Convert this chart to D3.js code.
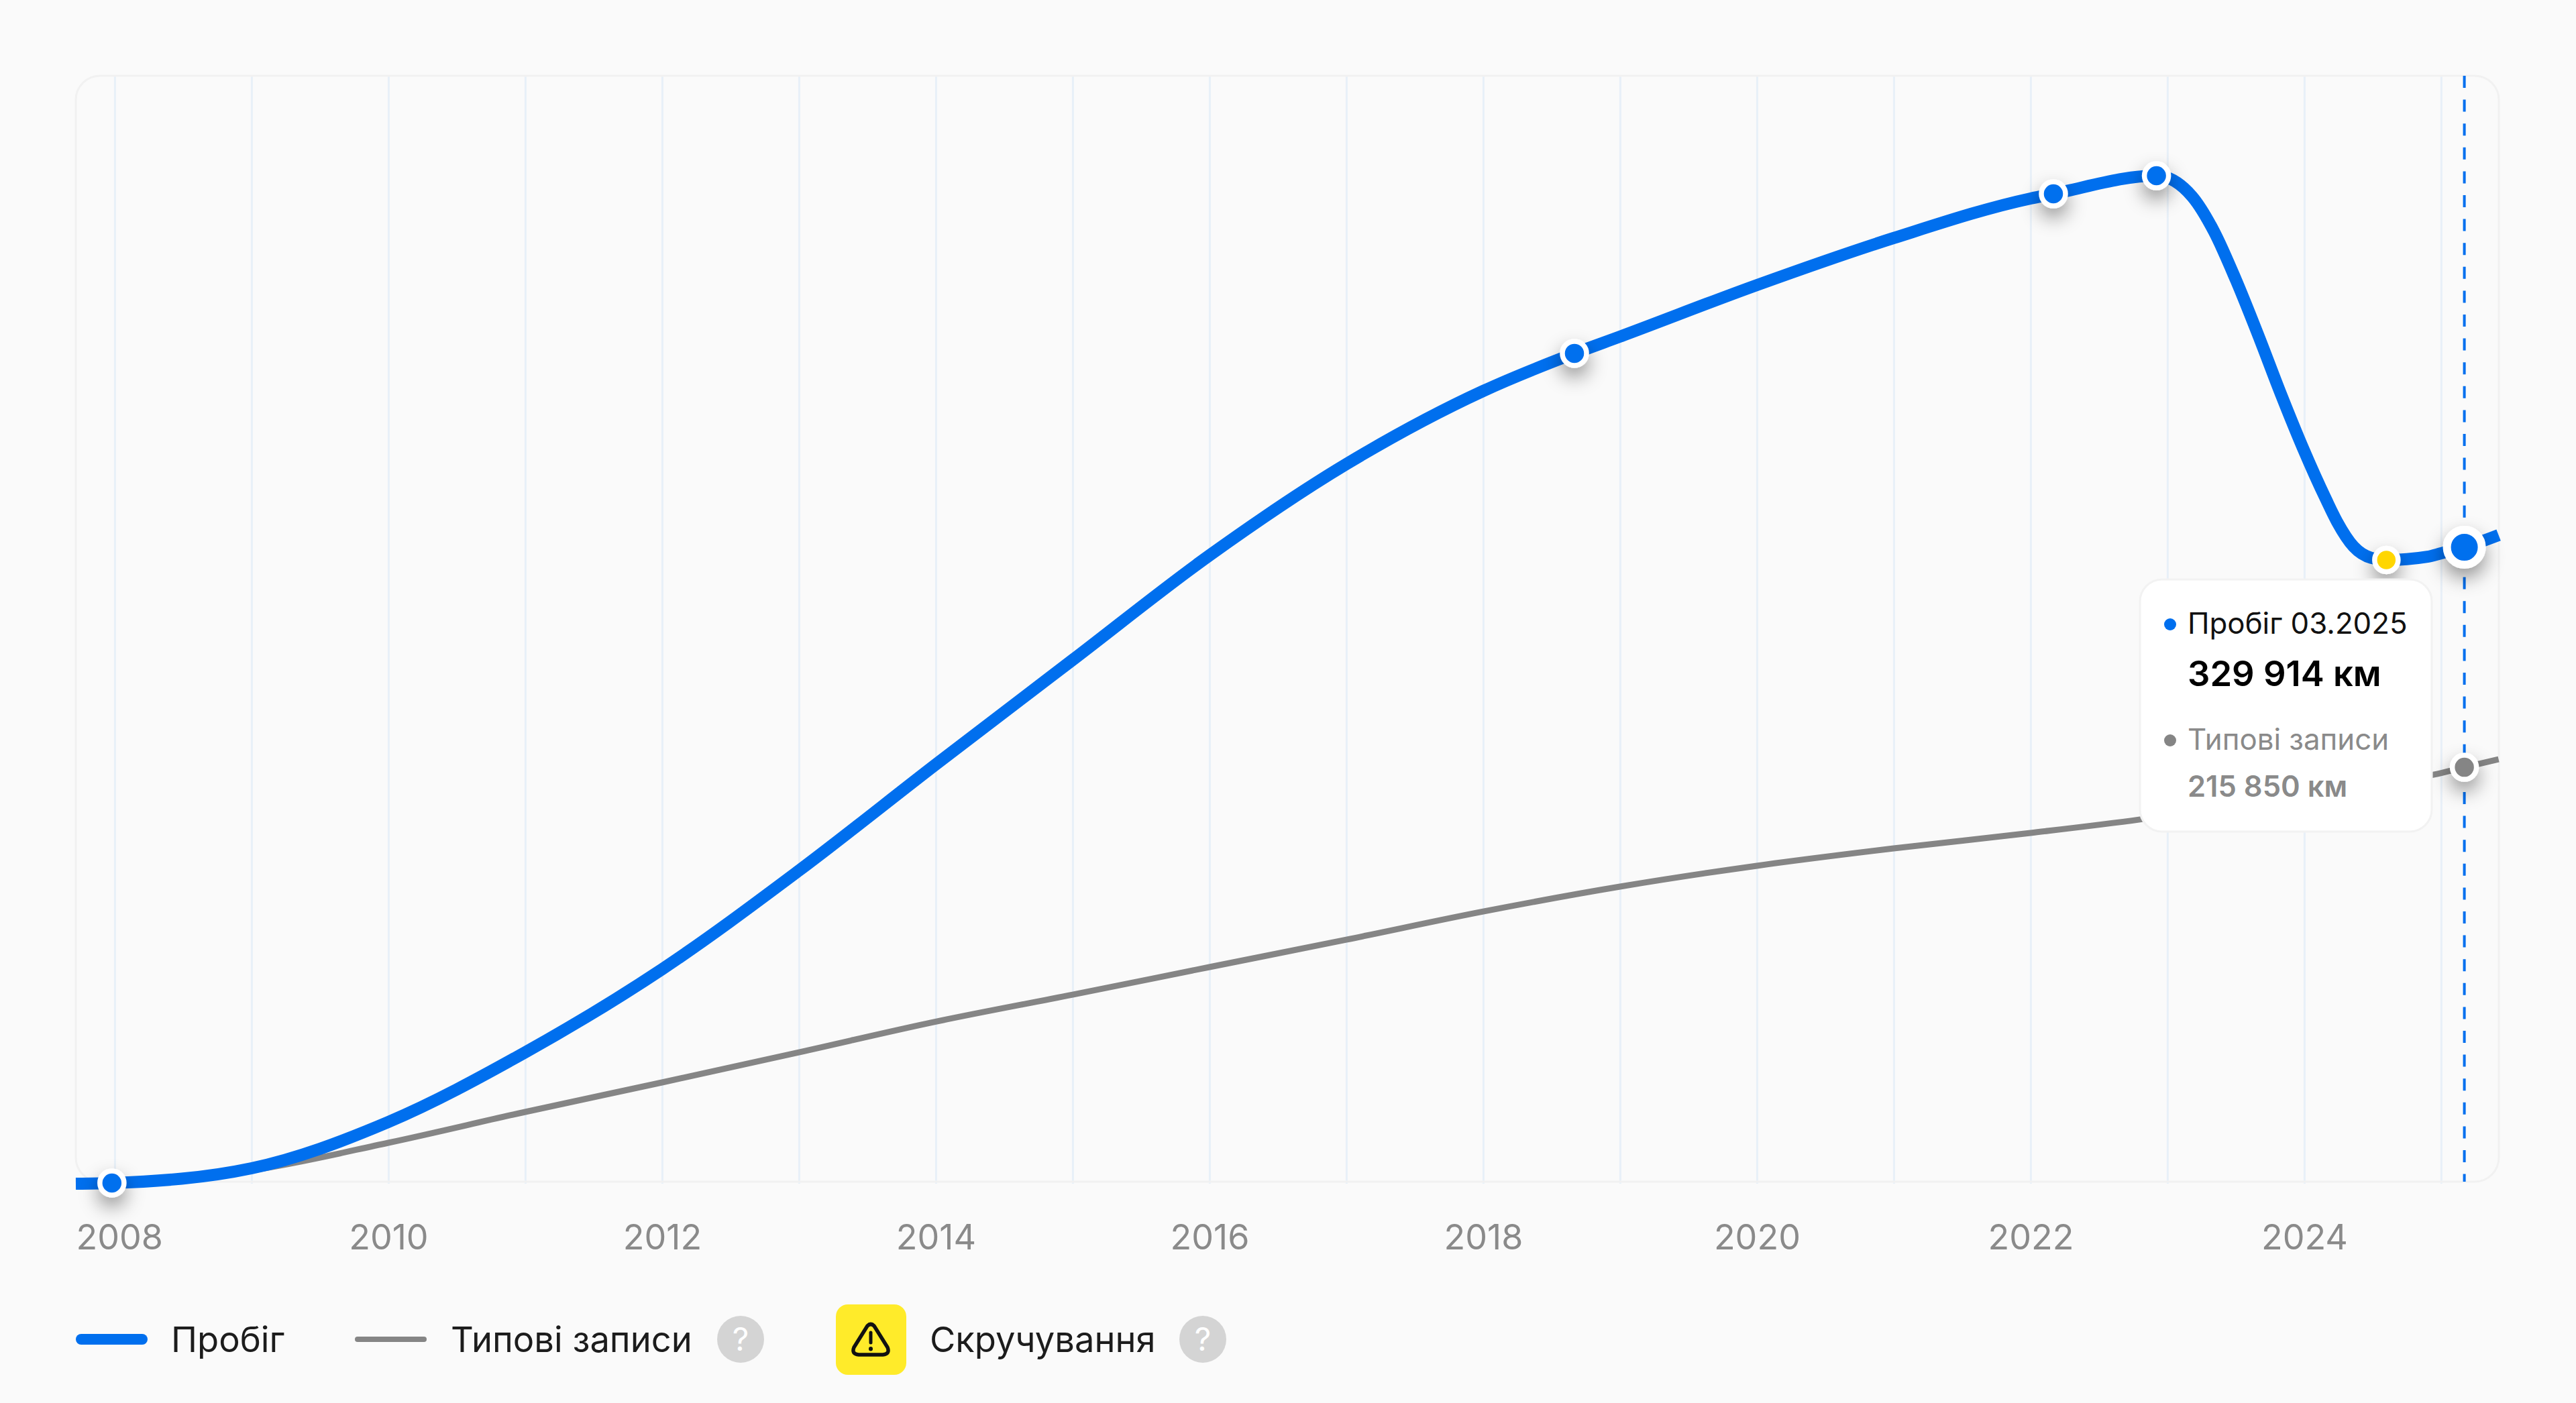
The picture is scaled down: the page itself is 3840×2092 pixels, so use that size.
<!DOCTYPE html>
<html>
<head>
<meta charset="utf-8">
<script src="https://cdn.jsdelivr.net/npm/d3@7"></script>
<style>
  html, body { margin: 0; padding: 0; background: #fafafa; }
  svg { display: block; }
  text { font-family: Inter, sans-serif; }
</style>
</head>
<body>
<script>
// metrics
const width = 3840, height = 2092;
const plotLeft = 113, plotRight = 3725, plotTop = 113, plotBottom = 1762;
const zeroY = 1765;

// data, km by decimal year
const gridYears = d3.range(2008, 2026);
const labelYears = [2008, 2010, 2012, 2014, 2016, 2018, 2020, 2022, 2024];

const mileageYears = [2007.716, 2007.98, 2009, 2010, 2011, 2012, 2013, 2014, 2015, 2016, 2017, 2018, 2018.667, 2019, 2020, 2021, 2022, 2022.167, 2022.92, 2023.18, 2023.34, 2023.5, 2023.67, 2023.83, 2023.99, 2024.16, 2024.24, 2024.36, 2024.49, 2024.6, 2024.9, 2025, 2025.17, 2025.42];
const mileageValues = [0, 350, 8000, 32000, 68100, 111200, 162300, 217300, 271500, 325700, 373000, 410900, 430400, 439100, 465800, 490200, 510700, 513100, 522500, 511800, 493700, 468600, 438700, 409200, 381400, 354600, 343100, 330300, 324400, 323300, 325000, 326800, 329914, 336200];

const typicalYears = [2007.716, 2007.98, 2009, 2010, 2011, 2012, 2013, 2014, 2015, 2016, 2017, 2018, 2019, 2020, 2021, 2022, 2022.8, 2023, 2024, 2024.95, 2025.17, 2025.42];
const typicalValues = [0, 350, 6950, 21200, 37200, 52500, 68100, 84000, 98000, 112300, 126500, 141100, 154000, 164800, 173800, 181800, 188800, 190800, 201600, 212100, 215850, 220000];

// record points on the mileage line
const recordYears = [2007.98, 2018.667, 2022.167, 2022.92];
const recordValues = [350, 430400, 513100, 522500];
const rollbackYear = 2024.6, rollbackValue = 323300;
const currentYear = 2025.17, currentValue = 329914, currentTypical = 215850;

// colors
const blue = '#006fee', gray = '#858585', gridColor = '#e8f0f8', borderColor = '#f1f1f1';

// elements
const svg = d3.select('body').append('svg')
    .attr('width', width)
    .attr('height', height);

const defs = svg.append('defs');
const shadow = defs.append('filter').attr('id', 'shadow')
    .attr('x', '-150%').attr('y', '-150%').attr('width', '400%').attr('height', '400%');
shadow.append('feDropShadow')
    .attr('dx', 0).attr('dy', 14).attr('stdDeviation', 14)
    .attr('flood-color', '#000').attr('flood-opacity', 0.4);

// scales
const xScale = d3.scaleLinear()
    .domain([2007.716, 2025.422])
    .range([plotLeft, plotRight]);
const yScale = d3.scaleLinear()
    .domain([0, 574300])
    .range([zeroY, plotTop]);

// grid
const grid = svg.append('g')
    .attr('transform', `translate(0, ${plotBottom})`)
    .call(d3.axisBottom(xScale).tickValues(gridYears).tickSize(plotBottom - plotTop).tickSizeOuter(0).tickFormat(''));
grid.select('.domain').remove();
grid.selectAll('line')
    .attr('y1', 3)
    .attr('y2', plotTop - plotBottom)
    .attr('stroke', gridColor)
    .attr('stroke-width', 3);

// frame
svg.append('rect')
    .attr('x', plotLeft).attr('y', plotTop)
    .attr('width', plotRight - plotLeft).attr('height', plotBottom - plotTop)
    .attr('rx', 36)
    .attr('fill', 'none')
    .attr('stroke', borderColor)
    .attr('stroke-width', 3);

// axis labels
const xAxis = svg.append('g')
    .attr('transform', `translate(0, ${plotBottom})`)
    .call(d3.axisBottom(xScale).tickValues(labelYears).tickSize(0).tickPadding(101).tickFormat(d3.format('d')));
xAxis.select('.domain').remove();
xAxis.selectAll('text')
    .attr('font-size', 52)
    .attr('font-family', 'Inter, sans-serif')
    .attr('fill', '#8a8a8a')
    .attr('dy', 0);
xAxis.select('.tick text')
    .attr('text-anchor', 'start')
    .attr('x', plotLeft - xScale(2008));

// lines
const line = d3.line()
    .x(d => xScale(d[0]))
    .y(d => yScale(d[1]))
    .curve(d3.curveMonotoneX);

svg.append('path')
    .datum(d3.zip(typicalYears, typicalValues))
    .attr('d', line)
    .attr('fill', 'none')
    .attr('stroke', gray)
    .attr('stroke-width', 9);

svg.append('path')
    .datum(d3.zip(mileageYears, mileageValues))
    .attr('d', line)
    .attr('fill', 'none')
    .attr('stroke', blue)
    .attr('stroke-width', 18);

// crosshair
svg.append('line')
    .attr('x1', xScale(currentYear)).attr('x2', xScale(currentYear))
    .attr('y1', plotTop).attr('y2', plotBottom)
    .attr('stroke', blue)
    .attr('stroke-width', 4)
    .attr('stroke-dasharray', '18 17.6');

// markers
const addMarker = (year, value, color, r, sw) => {
    svg.append('circle')
        .attr('cx', xScale(year))
        .attr('cy', yScale(value))
        .attr('r', r)
        .attr('fill', color)
        .attr('stroke', '#fff')
        .attr('stroke-width', sw)
        .attr('filter', 'url(#shadow)');
};
d3.zip(recordYears, recordValues).forEach(d => addMarker(d[0], d[1], blue, 18, 7.5));
addMarker(rollbackYear, rollbackValue, '#ffd600', 17.5, 7.5);
addMarker(currentYear, currentTypical, gray, 18, 7.5);
addMarker(currentYear, currentValue, blue, 26, 12);

// tooltip
const tip = svg.append('g');
tip.append('rect')
    .attr('x', 3190).attr('y', 864)
    .attr('width', 435).attr('height', 376)
    .attr('rx', 33)
    .attr('fill', '#fff')
    .attr('stroke', '#f2f2f2')
    .attr('stroke-width', 3);
tip.append('circle').attr('cx', 3235).attr('cy', 931).attr('r', 9).attr('fill', blue);
tip.append('circle').attr('cx', 3235).attr('cy', 1104).attr('r', 9).attr('fill', gray);
const tipText = (y, str, size, weight, color) => tip.append('text')
    .attr('x', 3261).attr('y', y)
    .attr('font-size', size)
    .attr('font-weight', weight)
    .attr('fill', color)
    .text(str);
tipText(945, 'Пробіг 03.2025', 43.8, 400, '#111');
tipText(1023, '329 914 км', 52.5, 600, '#000');
tipText(1118, 'Типові записи', 43.8, 400, '#8a8a8a');
tipText(1188, '215 850 км', 43.5, 600, '#8a8a8a');

// legend
const legendY = 1997;
const legendText = (x, str) => svg.append('text')
    .attr('x', x).attr('y', 2015.5)
    .attr('font-size', 52.5)
    .attr('fill', '#1c1c1c')
    .text(str);
const help = (cx) => {
    svg.append('circle').attr('cx', cx).attr('cy', legendY).attr('r', 35).attr('fill', '#d4d4d4');
    svg.append('text')
        .attr('x', cx).attr('y', legendY + 17)
        .attr('text-anchor', 'middle')
        .attr('font-size', 48)
        .attr('fill', '#fff')
        .text('?');
};

svg.append('rect').attr('x', 113).attr('y', legendY - 8).attr('width', 107).attr('height', 16).attr('rx', 8).attr('fill', blue);
legendText(255, 'Пробіг');
svg.append('rect').attr('x', 529).attr('y', legendY - 4).attr('width', 107).attr('height', 8).attr('rx', 4).attr('fill', gray);
legendText(672, 'Типові записи');
help(1104);

svg.append('rect').attr('x', 1246).attr('y', legendY - 52).attr('width', 105).attr('height', 105).attr('rx', 18).attr('fill', '#ffeb2a');
const warn = svg.append('g').attr('transform', `translate(1298, ${legendY})`)
    .attr('fill', 'none').attr('stroke', '#111').attr('stroke-linecap', 'round').attr('stroke-linejoin', 'round');
warn.append('path')
    .attr('d', 'M-5,-20 Q0,-25 5,-20 L25,12 Q29,22 18,23 L-18,23 Q-29,22 -25,12 Z')
    .attr('stroke-width', 5.5);
warn.append('path').attr('d', 'M0,-10 L0,5').attr('stroke-width', 5);
warn.append('path').attr('d', 'M0,14 L0,14.5').attr('stroke-width', 6);
legendText(1386, 'Скручування');
help(1793);
</script>
</body>
</html>
